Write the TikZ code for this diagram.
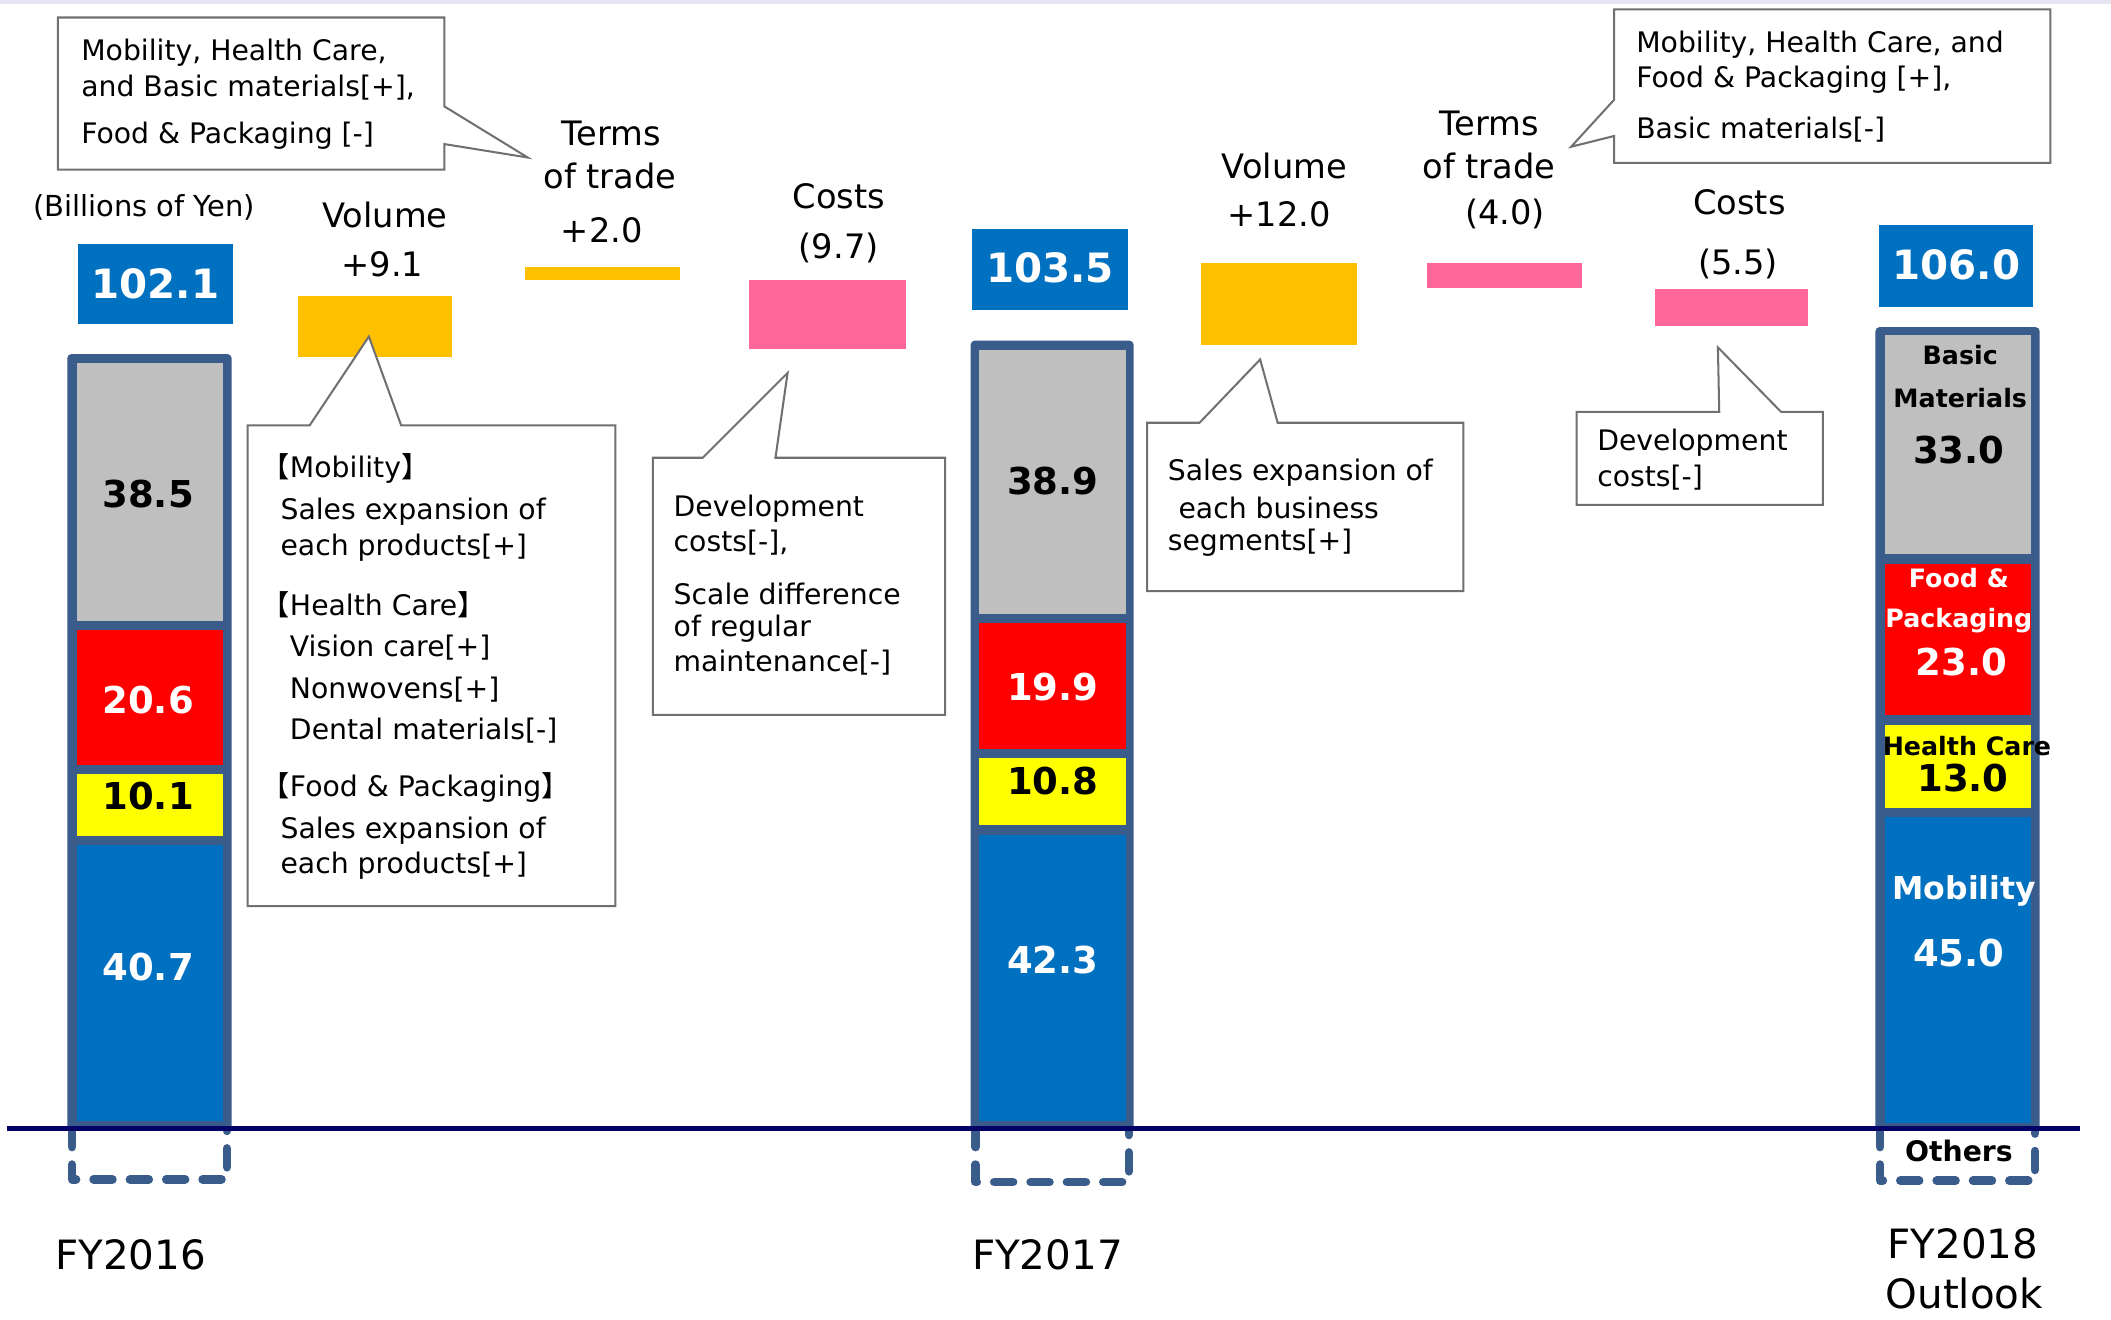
\documentclass[tikz,border=0pt]{standalone}
\usepackage{fontspec}
\setmainfont{DejaVu Sans}
\newfontfamily\cjkf{Noto Sans CJK JP}
\newcommand{\lbr}{{\cjkf 【}}
\newcommand{\rbr}{{\cjkf 】}}
\definecolor{framec}{RGB}{58,92,138}
\definecolor{segg}{RGB}{191,191,191}
\definecolor{segr}{RGB}{255,0,0}
\definecolor{segy}{RGB}{255,255,0}
\definecolor{segb}{RGB}{0,112,192}
\definecolor{gold}{RGB}{255,192,0}
\definecolor{pinkc}{RGB}{255,102,153}
\definecolor{navyc}{RGB}{0,0,102}
\definecolor{callc}{RGB}{112,112,112}
\definecolor{lav}{RGB}{232,228,244}
\tikzset{
  txt/.style={inner sep=0pt, anchor=west, font=\fontsize{10.5}{12}\selectfont},
  hdr/.style={inner sep=0pt, font=\fontsize{12.5}{14}\selectfont},
  fy/.style={inner sep=0pt, font=\fontsize{15}{17}\selectfont},
  lab/.style={inner sep=0pt, font=\bfseries\fontsize{13.75}{15}\selectfont},
  slab/.style={inner sep=0pt, font=\bfseries\fontsize{9.4}{11}\selectfont},
  tot/.style={inner sep=0pt, text=white, font=\bfseries\fontsize{15}{17}\selectfont},
  callout/.style={draw=callc, fill=white, line width=0.75pt, line join=miter},
  dashbox/.style={draw=framec, line width=3.2pt, dash pattern=on 7pt off 6.5pt, line cap=round, line join=round},
  baseln/.style={draw=navyc, line width=2pt}
}
\begin{document}
\begin{tikzpicture}[x=0.5pt,y=-0.5pt]
\useasboundingbox (0,0) rectangle (1568,980);
\fill[white] (0,0) rectangle (1568,980);
\fill[lav] (0,0) rectangle (1568,3);

% ---------- bars ----------
% FY2016
\fill[framec, rounded corners=1.5pt] (50,263) rectangle (172,840);
\fill[segg] (57,269.5) rectangle (165.5,461);
\fill[segr] (57,468) rectangle (165.5,568.5);
\fill[segy] (57,575) rectangle (165.5,621);
\fill[segb] (57,628) rectangle (165.5,833);
\draw[dashbox] (53.5,838) -- (53.5,876) -- (168.5,876) -- (168.5,838);
% FY2017
\fill[framec, rounded corners=1.5pt] (721,253) rectangle (842,840);
\fill[segg] (727.5,260) rectangle (836,456);
\fill[segr] (727.5,463) rectangle (836,556);
\fill[segy] (727.5,563) rectangle (836,613);
\fill[segb] (727.5,620) rectangle (836,833);
\draw[dashbox] (724.5,838) -- (724.5,878) -- (838.5,878) -- (838.5,838);
% FY2018
\fill[framec, rounded corners=1.5pt] (1393,243) rectangle (1515,840);
\fill[segg] (1400,249) rectangle (1508.5,411.5);
\fill[segr] (1400,419) rectangle (1508.5,531);
\fill[segy] (1400,538.5) rectangle (1508.5,600);
\fill[segb] (1400,607) rectangle (1508.5,834);
\draw[dashbox] (1396.5,838) -- (1396.5,877) -- (1511.5,877) -- (1511.5,838);

\draw[baseln] (5,838) -- (1545,838);

% ---------- totals ----------
\fill[segb] (58,181) rectangle (173,241);
\node[tot] (t16) at (115.5,211) {102.1};
\fill[segb] (722,170) rectangle (838,230);
\node[tot] (t17) at (780,199) {103.5};
\fill[segb] (1396,167) rectangle (1510,228);
\node[tot] (t18) at (1453,197) {106.0};

% ---------- bar labels ----------
\node[lab] (a1) at (110,367) {38.5};
\node[lab, text=white] (a2) at (110,520) {20.6};
\node[lab] (a3) at (110,591) {10.1};
\node[lab, text=white] (a4) at (110,718) {40.7};
\node[lab] (b1) at (782,357) {38.9};
\node[lab, text=white] (b2) at (782,510) {19.9};
\node[lab] (b3) at (782,580) {10.8};
\node[lab, text=white] (b4) at (782,713) {42.3};
\node[slab] (c1a) at (1456,264) {Basic};
\node[slab] (c1b) at (1456,296) {Materials};
\node[lab] (c1) at (1455,334) {33.0};
\node[slab, text=white] (c2a) at (1455,429) {Food \&};
\node[slab, text=white] (c2b) at (1455,461) {Packaging};
\node[lab, text=white] (c2) at (1457,492) {23.0};
\node[slab] (c3a) at (1461,554) {Health Care};
\node[lab] (c3) at (1458,578) {13.0};
\node[inner sep=0pt, text=white, font=\bfseries\fontsize{11.7}{13}\selectfont] (c4a) at (1459,662) {Mobility};
\node[lab, text=white] (c4) at (1455,708) {45.0};
\node[inner sep=0pt, font=\bfseries\fontsize{10.5}{12}\selectfont] (oth) at (1455,855) {Others};

% ---------- FY labels ----------
\node[fy] (fy16) at (97,932) {FY2016};
\node[fy] (fy17) at (778,932) {FY2017};
\node[fy] (fy18a) at (1458,924) {FY2018};
\node[fy] (fy18b) at (1459,961) {Outlook};

% ---------- waterfall steps ----------
\fill[gold] (221,220) rectangle (336,265);
\fill[gold] (390,198) rectangle (505,208);
\fill[pinkc] (556,208) rectangle (673,259);
\fill[gold] (892,195) rectangle (1008,256);
\fill[pinkc] (1060,195) rectangle (1175,214);
\fill[pinkc] (1229,215) rectangle (1343,242);

\node[txt, anchor=center, font=\fontsize{10.75}{12}\selectfont] (unit) at (107,154) {(Billions of Yen)};
\node[hdr] (v1) at (286,160) {Volume};
\node[hdr] (v1n) at (284,196) {+9.1};
\node[hdr] (tt1) at (454,99) {Terms};
\node[hdr] (tt1b) at (453,131) {of trade};
\node[hdr] (tt1n) at (447,171) {+2.0};
\node[hdr] (co1) at (623,146) {Costs};
\node[hdr] (co1n) at (623,184) {(9.7)};
\node[hdr] (v2) at (954,123) {Volume};
\node[hdr] (v2n) at (950,159) {+12.0};
\node[hdr] (tt2) at (1106,92) {Terms};
\node[hdr] (tt2b) at (1106,123) {of trade};
\node[hdr] (tt2n) at (1118,159) {(4.0)};
\node[hdr] (co2) at (1292,150) {Costs};
\node[hdr] (co2n) at (1291,196) {(5.5)};

% ---------- callouts ----------
% A
\draw[callout] (43,13) -- (330,13) -- (330,79) -- (392,117) -- (330,107) -- (330,126) -- (43,126) -- cycle;
\node[txt] (ca1) at (60,39) {Mobility, Health Care,};
\node[txt] (ca2) at (60,65) {and Basic materials[+],};
\node[txt] (ca3) at (60,101) {Food \& Packaging [-]};
% B
\draw[callout] (184,316) -- (230,316) -- (274,250) -- (298,316) -- (457,316) -- (457,673) -- (184,673) -- cycle;
\node[txt] (cb1) at (194,348) {\lbr Mobility\rbr};
\node[txt] (cb2) at (208,380) {Sales expansion of};
\node[txt] (cb3) at (208,407) {each products[+]};
\node[txt] (cb4) at (194,449) {\lbr Health Care\rbr};
\node[txt] (cb5) at (215,481) {Vision care[+]};
\node[txt] (cb6) at (215,512) {Nonwovens[+]};
\node[txt] (cb7) at (215,543) {Dental materials[-]};
\node[txt] (cb8) at (194,585) {\lbr Food \& Packaging\rbr};
\node[txt] (cb9) at (208,617) {Sales expansion of};
\node[txt] (cb10) at (208,643) {each products[+]};
% C
\draw[callout] (485,340) -- (522,340) -- (585,277) -- (576,340) -- (702,340) -- (702,531) -- (485,531) -- cycle;
\node[txt] (cc1) at (500,378) {Development};
\node[txt] (cc2) at (500,403) {costs[-],};
\node[txt] (cc3) at (500,441) {Scale difference};
\node[txt] (cc4) at (500,467) {of regular};
\node[txt] (cc5) at (500,492) {maintenance[-]};
% D
\draw[callout] (852,314) -- (891,314) -- (936,267) -- (949,314) -- (1087,314) -- (1087,439) -- (852,439) -- cycle;
\node[txt] (cd1) at (867,351) {Sales expansion of};
\node[txt] (cd2) at (875,377) {each business};
\node[txt] (cd3) at (867,403) {segments[+]};
% E
\draw[callout] (1199,7) -- (1523,7) -- (1523,121) -- (1199,121) -- (1199,101) -- (1167,109) -- (1199,74) -- cycle;
\node[txt] (ce1) at (1215,33) {Mobility, Health Care, and};
\node[txt] (ce2) at (1215,59) {Food \& Packaging [+],};
\node[txt] (ce3) at (1215,96) {Basic materials[-]};
% F
\draw[callout] (1171,306) -- (1277,306) -- (1276,258) -- (1323,306) -- (1354,306) -- (1354,375) -- (1171,375) -- cycle;
\node[txt] (cf1) at (1186,329) {Development};
\node[txt] (cf2) at (1186,355) {costs[-]};
\end{tikzpicture}
\end{document}
